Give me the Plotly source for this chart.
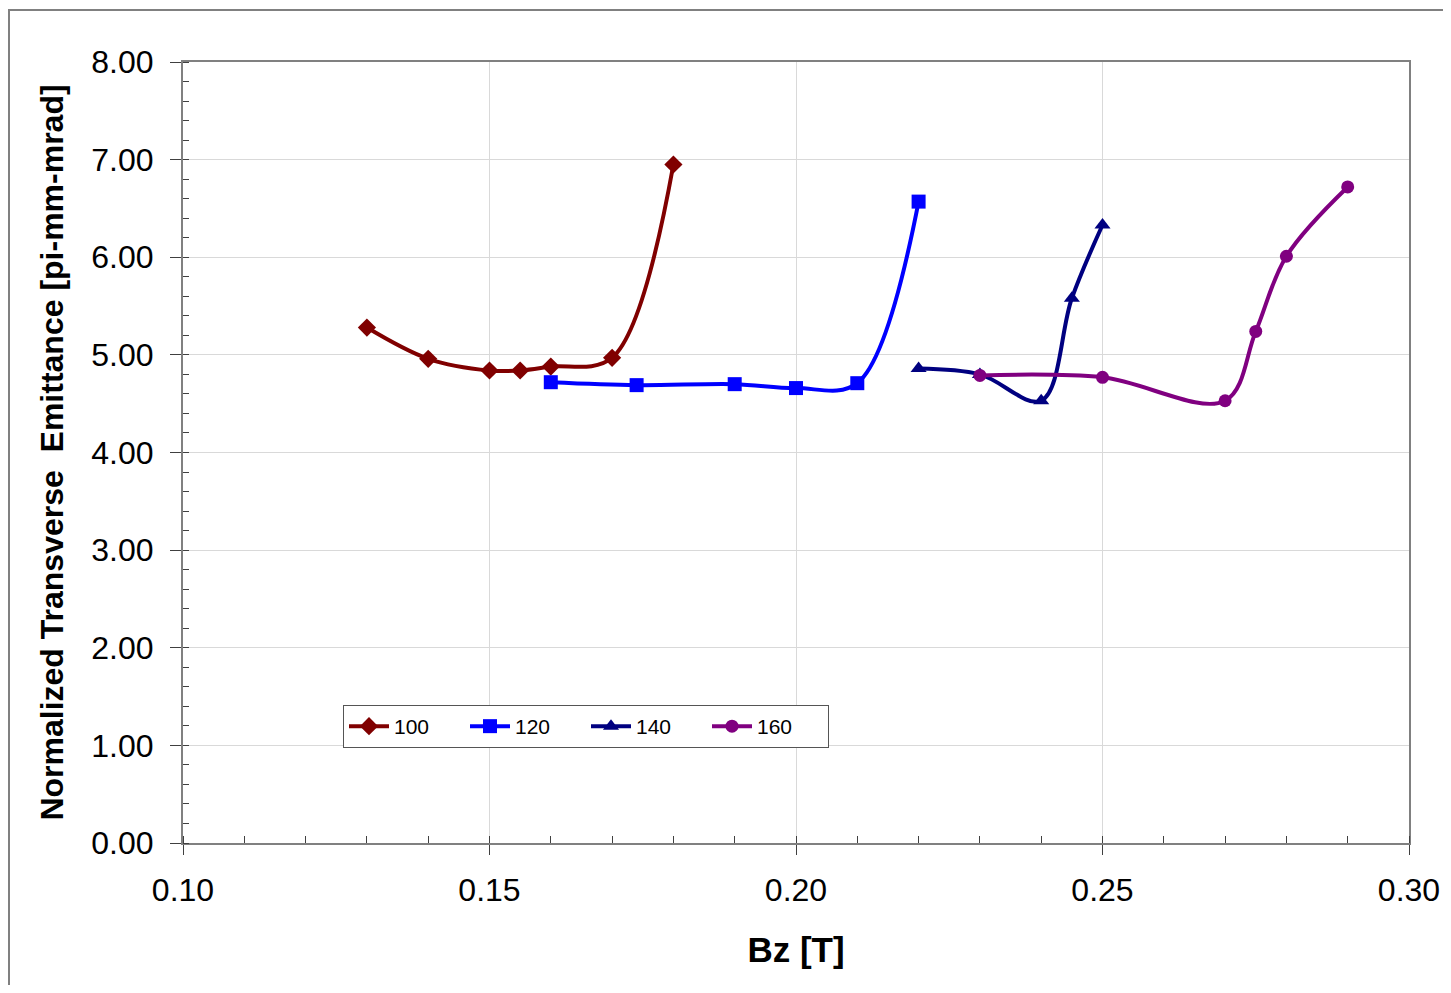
import plotly.graph_objects as go

# ---- data ----
x100 = [0.13, 0.14, 0.15, 0.155, 0.16, 0.17, 0.18]
y100 = [5.28, 4.96, 4.84, 4.84, 4.88, 4.97, 6.95]

x120 = [0.16, 0.174, 0.19, 0.20, 0.21, 0.22]
y120 = [4.72, 4.69, 4.70, 4.66, 4.71, 6.57]

x140 = [0.22, 0.23, 0.24, 0.245, 0.25]
y140 = [4.86, 4.80, 4.53, 5.58, 6.33]

x160 = [0.23, 0.25, 0.27, 0.275, 0.28, 0.29]
y160 = [4.79, 4.77, 4.53, 5.24, 6.01, 6.72]

series_names = ["100", "120", "140", "160"]
colors = ["#800000", "#0000FF", "#000080", "#800080"]
symbols = ["diamond", "square", "triangle-up", "circle"]
marker_sizes = [14, 14, 14, 13]

x_ticks = [0.10, 0.15, 0.20, 0.25, 0.30]
x_tick_labels = ["0.10", "0.15", "0.20", "0.25", "0.30"]
y_ticks = [0, 1, 2, 3, 4, 5, 6, 7, 8]
y_tick_labels = ["0.00", "1.00", "2.00", "3.00", "4.00", "5.00", "6.00", "7.00", "8.00"]

FONT = "Liberation Sans, Arial, sans-serif"

fig = go.Figure()
for xs, ys, name, c, s, ms in zip([x100, x120, x140, x160], [y100, y120, y140, y160],
                                   series_names, colors, symbols, marker_sizes):
    fig.add_trace(go.Scatter(
        x=xs, y=ys, name=name, mode="lines+markers",
        line=dict(color=c, width=4, shape="spline", smoothing=1.0),
        marker=dict(symbol=s, size=ms, color=c),
    ))

OFF = 8  # page body margin
W, H = 1435, 977
# target plot area in window pixels: x 183..1409, y 62..843
ml = 183 - OFF
mt = 62 - OFF
mr = OFF + W - 1409
mb = OFF + H - 843
pw, ph = W - ml - mr, H - mt - mb

def px2paper_x(px):
    return (px - OFF - ml) / pw

def px2paper_y(py):
    return (OFF + H - mb - py) / ph

fig.update_layout(
    width=W, height=H,
    margin=dict(l=ml, r=mr, t=mt, b=mb, autoexpand=False),
    paper_bgcolor="white", plot_bgcolor="white",
    font=dict(family=FONT, color="black"),
    showlegend=True,
    legend=dict(
        orientation="h",
        x=px2paper_x(343), y=px2paper_y(705), xanchor="left", yanchor="top",
        bgcolor="white", bordercolor="#555555", borderwidth=1,
        font=dict(size=21, family=FONT, color="black"),
        entrywidth=66, entrywidthmode="pixels",
        itemwidth=40,
    ),
    shapes=[dict(
        type="rect", xref="paper", yref="paper",
        x0=px2paper_x(9), x1=px2paper_x(1470),
        y0=px2paper_y(1010), y1=px2paper_y(10),
        line=dict(color="#808080", width=2), fillcolor="rgba(0,0,0,0)", layer="below",
    )],
)

fig.update_xaxes(
    range=[0.10, 0.30], automargin=False,
    tickvals=x_ticks, ticktext=x_tick_labels,
    tickfont=dict(size=32, family=FONT, color="black"),
    ticks="outside", ticklen=10, tickwidth=1, tickcolor="#404040",
    ticklabelstandoff=8,
    showline=True, linecolor="#808080", linewidth=2, mirror=True,
    showgrid=True, gridcolor="#d9d9d9", gridwidth=1,
    zeroline=False,
    minor=dict(dtick=0.01, tick0=0.10, ticks="inside", ticklen=7, tickcolor="#404040", tickwidth=1, showgrid=False),
    title=dict(text="<b>Bz [T]</b>", font=dict(size=35, family=FONT, color="black"), standoff=30),
)

fig.update_yaxes(
    range=[0, 8], automargin=False,
    tickvals=y_ticks, ticktext=y_tick_labels,
    tickfont=dict(size=32, family=FONT, color="black"),
    ticks="outside", ticklen=11, tickwidth=1, tickcolor="#404040",
    ticklabelstandoff=10,
    showline=True, linecolor="#808080", linewidth=2, mirror=True,
    showgrid=True, gridcolor="#d9d9d9", gridwidth=1,
    zeroline=False,
    minor=dict(dtick=0.2, tick0=0, ticks="inside", ticklen=6, tickcolor="#404040", tickwidth=1, showgrid=False),
    title=dict(text="<b>Normalized Transverse  Emittance [pi-mm-mrad]</b>",
               font=dict(size=32, family=FONT, color="black"), standoff=18),
)

fig.write_html("out.html")
